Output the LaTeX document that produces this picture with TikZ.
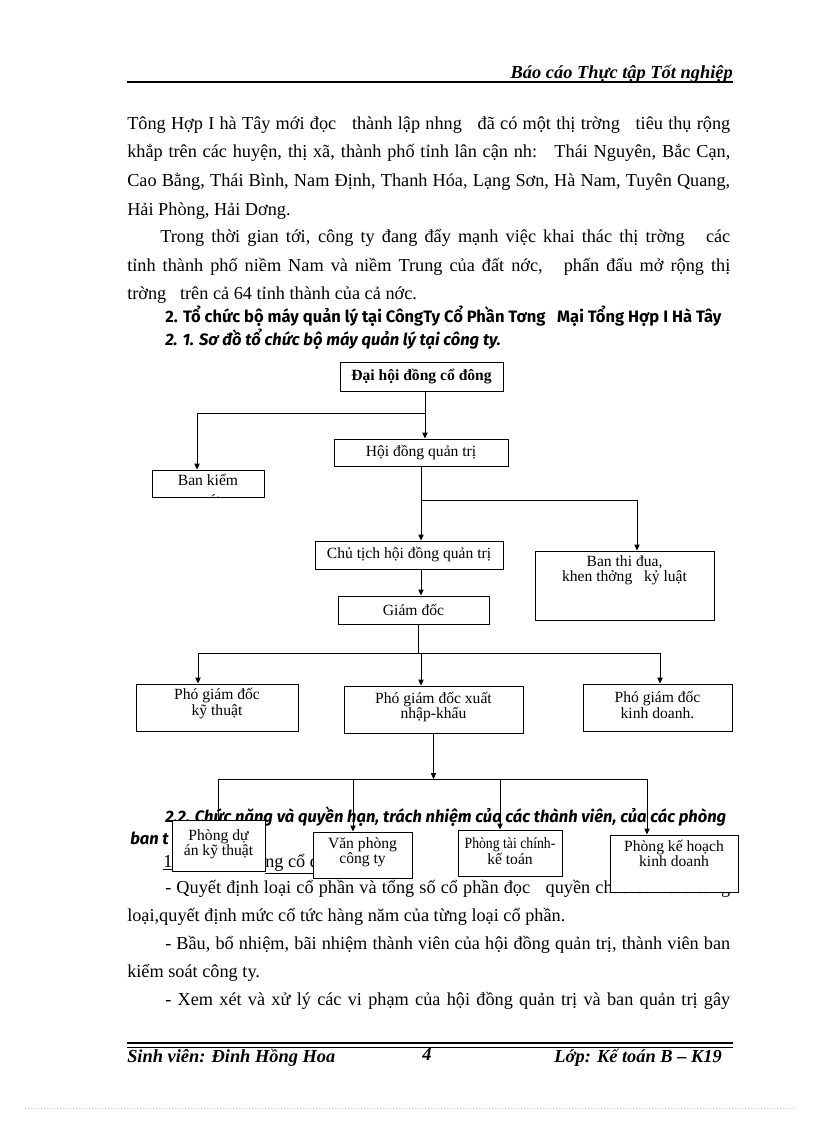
\documentclass[tikz,border=0pt]{standalone}
\usepackage{fontspec}
\usepackage{graphicx}
\setmainfont{Liberation Serif}
\newfontfamily\avofont{Fira Sans}
\usetikzlibrary{arrows.meta,positioning}

\tikzset{
  txt/.style={anchor=base west,inner sep=0pt,font=\fontsize{13.7}{16}\selectfont},
  headtxt/.style={anchor=base west,inner sep=0pt,font=\avofont\bfseries\fontsize{12.4}{14}\selectfont},
  headit/.style={headtxt,font=\avofont\bfseries\itshape\fontsize{12.4}{14}\selectfont},
  obox/.style 2 args={rectangle,draw=black,line width=0.7pt,fill=white,inner sep=0pt,minimum width=#1*0.75pt,minimum height=#2*0.75pt},
  otxt/.style={align=center,inner sep=0pt,font=\fontsize{11.7}{11.5}\selectfont},
  conn/.style={line width=0.7pt},
  arr/.style={line width=0.7pt,-{Triangle[length=4.5pt,width=4pt]}},
  foot/.style={inner sep=0pt,font=\fontsize{13.8}{15}\selectfont\bfseries\itshape},
}

\begin{document}
\begin{tikzpicture}[x=0.75pt,y=-0.75pt]
\fill[white] (0,0) rectangle (816,1123);
\useasboundingbox (0,0) rectangle (816,1123);

\node[foot,anchor=base east] (hdr) at (733,79) {Báo cáo Thực tập Tốt nghiệp};
\coordinate (hl) at (127,82);
\draw[line width=1.1pt] (hl) -- (hl -| hdr.east);

\node[txt] (l1) at (127,130) {\makebox[452.25pt][s]{Tông Hợp I hà Tây mới đọc~~~thành lập nhng~~~đã có một thị trờng~~~tiêu thụ rộng}};
\node[txt] (l2) at (127,158) {\makebox[452.25pt][s]{khắp trên các huyện, thị xã, thành phố tỉnh lân cận nh:~~~Thái Nguyên, Bắc Cạn,}};
\node[txt] (l3) at (127,187) {\makebox[452.25pt][s]{Cao Bằng, Thái Bình, Nam Định, Thanh Hóa, Lạng Sơn, Hà Nam, Tuyên Quang,}};
\node[txt] (l4) at (127,215) {Hải Phòng, Hải Dơng.};
\node[txt] (l5) at (160,243) {\makebox[427.5pt][s]{Trong thời gian tới, công ty đang đẩy mạnh việc khai thác thị trờng~~~các}};
\node[txt] (l6) at (127,271) {\makebox[452.25pt][s]{tỉnh thành phố niềm Nam và niềm Trung của đất nớc,~~~phấn đấu mở rộng thị}};
\node[txt] (l7) at (127,299) {trờng~~~trên cả 64 tỉnh thành của cả nớc.};

\node[headtxt] (h2) at (165,322) {2. Tổ chức bộ máy quản lý tại CôngTy Cổ Phần Tơng~~~Mại Tổng Hợp I Hà Tây};
\node[headit] (h21) at (165,345) {2. 1. Sơ đồ tổ chức bộ máy quản lý tại công ty.};

\node[headit] (h22) at (165,822) {2.2. Chức năng và quyền hạn, trách nhiệm của các thành viên, của các phòng};
\node[headit] (h22b) at (130,844) {ban t};
\node[txt] (b0a) at (163,867) {\underline{1.}};
\node[txt] (b0b) at (265,867) {\underline{ng cổ đ}};
\node[txt] (b1) at (165,893) {\makebox[423.75pt][s]{- Quyết định loại cổ phần và tổng số cổ phần đọc~~~quyền chào bán của từng}};
\node[txt] (b2) at (127,921) {loại,quyết định mức cổ tức hàng năm của từng loại cổ phần.};
\node[txt] (b3) at (165,949) {\makebox[423.75pt][s]{- Bầu, bổ nhiệm, bãi nhiệm thành viên của hội đồng quản trị, thành viên ban}};
\node[txt] (b4) at (127,977) {kiểm soát công ty.};
\node[txt] (b5) at (165,1005) {\makebox[423.75pt][s]{- Xem xét và xử lý các vi phạm của hội đồng quản trị và ban quản trị gây}};

\node[obox={163}{29}] (dhcd) at (421.5,376.5) {};
\node[otxt,font=\fontsize{11.7}{11.5}\selectfont\bfseries] at (dhcd) {Đại hội đồng cổ đông};
\node[obox={174}{27}] (hdqt) at (421,452.5) {};
\node[otxt] at (hdqt) {Hội đồng quản trị};
\node[obox={112}{27}] (bks) at (208,483.5) {};
\begin{scope}
\clip (bks.south west) rectangle (bks.north east);
\node[otxt,font=\fontsize{11.7}{15}\selectfont,anchor=north] at ([yshift=-3.5pt]bks.north) {Ban kiểm\\soát};
\end{scope}
\node[obox={188}{28}] (ct) at (409,555) {};
\node[otxt] at (ct) {Chủ tịch hội đồng quản trị};
\node[obox={179}{69}] (btd) at (624.5,585.5) {};
\node[otxt] at ([yshift=-15pt]btd.north) {Ban thi đua,\\khen thởng~~~kỷ luật};
\node[obox={151}{28}] (gd) at (413.5,610) {};
\node[otxt] at (gd) {Giám đốc};

\node[obox={162}{47}] (pkt) at (217,707.5) {};
\node[otxt] at ([yshift=3pt]pkt.center) {Phó giám đốc\\kỹ thuật};
\node[obox={179}{47}] (xnk) at (433.5,709.5) {};
\node[otxt] at ([yshift=2pt]xnk.center) {Phó giám đốc xuất\\nhập-khẩu};
\node[obox={149}{47}] (pkd) at (657.5,707.5) {};
\node[otxt] at ([yshift=2pt]pkd.center) {Phó giám đốc\\kinh doanh.};

\node[obox={93}{51}] (pda) at (218.5,845.5) {};
\node[otxt] at ([yshift=1pt]pda.center) {Phòng dự\\án kỹ thuật};
\node[obox={99}{46}] (vp) at (362.5,855) {};
\node[otxt] at ([yshift=2pt]vp.center) {Văn phòng\\công ty};
\node[obox={104}{46}] (ptc) at (510,853) {};
\node[otxt] at ([yshift=1.5pt]ptc.center) {\scalebox{0.88}[1]{Phòng tài chính-}\\kế toán};
\node[obox={128}{57}] (pkh) at (674,863.5) {};
\node[otxt] at ([yshift=7.5pt]pkh.center) {Phòng kế hoạch\\kinh doanh};

\coordinate (j1) at (425,413);
\draw[arr] (dhcd.south -| j1) -- (hdqt.north -| j1);
\draw[arr] (j1) -| ([xshift=-8.25pt]bks.north);

\coordinate (j2) at (421,500);
\draw[conn] (hdqt.south -| j2) -- (j2);
\draw[arr] (j2) -- (j2 |- ct.north);
\draw[arr] (j2) -| ([xshift=9.375pt]btd.north);
\draw[arr] (j2 |- ct.south) -- (j2 |- gd.north);

\coordinate (j3) at (418,653);
\draw[conn] (j3 |- gd.south) -- (j3);
\draw[arr] (j3) -| ([xshift=-14.25pt]pkt.north);
\draw[arr] (j3) -| ([xshift=1.875pt]pkd.north);
\draw[arr] ([xshift=-9.375pt]xnk.north |- j3) -- ([xshift=-9.375pt]xnk.north);

\coordinate (j4) at (433,779);
\draw[arr] (xnk.south) -- (xnk.south |- j4);
\draw[conn] (pda.north |- j4) -- ([xshift=-20.25pt]pkh.north |- j4);
\draw[conn] (pda.north |- j4) -- (pda.north);
\draw[arr] ([xshift=-7.125pt]vp.north |- j4) -- ([xshift=-7.125pt]vp.north);
\draw[arr] ([xshift=-7.5pt]ptc.north |- j4) -- ([xshift=-7.5pt]ptc.north);
\draw[arr] ([xshift=-20.25pt]pkh.north |- j4) -- ([xshift=-20.25pt]pkh.north);

\coordinate (fl) at (127,1043);
\draw[line width=1.4pt] (fl) -- ++(606,0);
\draw[line width=0.6pt] ([yshift=-3pt]fl) -- ++(606,0);
\node[foot,anchor=base west] (fn) at (127,1062) {Sinh viên: Đinh Hồng Hoa};
\node[foot,anchor=base] (fp) at (427,1060) {4};
\node[foot,anchor=base east] (fc) at (722,1062) {Lớp: Kế toán B -- K19};

\draw[gray!50,dotted] (25,1108) -- (795,1108);
\end{tikzpicture}
\end{document}
